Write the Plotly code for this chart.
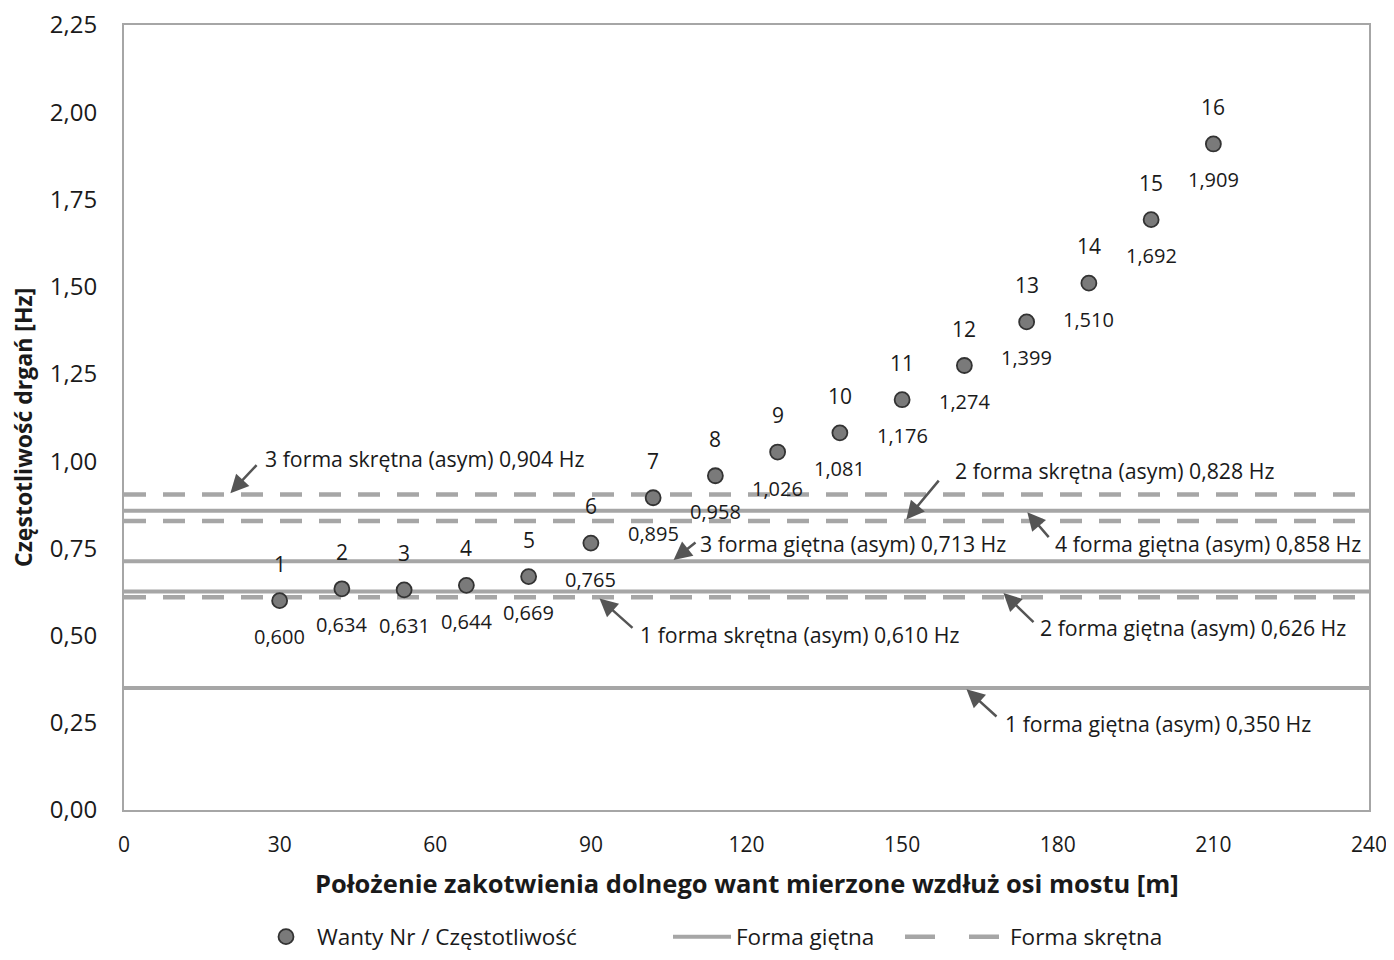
import plotly.graph_objects as go

# ---- data ----
positions = [30, 42, 54, 66, 78, 90, 102, 114, 126, 138, 150, 162, 174, 186, 198, 210]
stay_no = list(range(1, 17))
freqs = [0.600, 0.634, 0.631, 0.644, 0.669, 0.765, 0.895, 0.958, 1.026, 1.081,
         1.176, 1.274, 1.399, 1.510, 1.692, 1.909]

bend_labels = ["1 forma giętna (asym) 0,350 Hz", "2 forma giętna (asym) 0,626 Hz",
               "3 forma giętna (asym) 0,713 Hz", "4 forma giętna (asym) 0,858 Hz"]
bend_values = [0.350, 0.626, 0.713, 0.858]
tors_labels = ["1 forma skrętna (asym) 0,610 Hz", "2 forma skrętna (asym) 0,828 Hz",
               "3 forma skrętna (asym) 0,904 Hz"]
tors_values = [0.610, 0.828, 0.904]

x_range = [0, 240]
y_range = [0, 2.25]
y_ticks = [0, 0.25, 0.5, 0.75, 1.0, 1.25, 1.5, 1.75, 2.0, 2.25]

# ---- layout geometry: page has an 8px body margin ----
OFF = 8
W, H = 1394 - 2 * OFF, 960 - 2 * OFF
PL, PT, PR, PB = 124, 25, 1369, 810          # plot box in page pixels
L, T = PL - OFF, PT - OFF
R = W - (PR - OFF)
B = H - (PB - OFF)
pw, ph = PR - PL, PB - PT

def px2x(px):
    return (px - PL) / pw * (x_range[1] - x_range[0])
def py2y(py):
    return (PB - py) / ph * (y_range[1] - y_range[0])
def px2paper(px):
    return (px - PL) / pw
def py2paper(py):
    return (PB - py) / ph

FONT = "Open Sans"
TXT = "#1a1a1a"
LINE_C = "#a6a6a6"
ARROW_C = "#555555"
LEG_Y = (H - (937 - OFF)) / H

fig = go.Figure()

# horizontal mode lines
for i, v in enumerate(bend_values):
    fig.add_trace(go.Scatter(x=x_range, y=[v, v], mode="lines",
                             line=dict(color=LINE_C, width=4),
                             name="Forma giętna", legendgroup="bend", legend="legend2",
                             showlegend=(i == 0), hoverinfo="skip"))
for i, v in enumerate(tors_values):
    fig.add_trace(go.Scatter(x=x_range, y=[v, v], mode="lines",
                             line=dict(color=LINE_C, width=4.5, dash="22px,17px"),
                             name="Forma skrętna", legendgroup="tors",
                             showlegend=False, hoverinfo="skip"))
# legend entry for torsional modes (legend sample only)
fig.add_trace(go.Scatter(x=[None], y=[None], mode="lines",
                         line=dict(color=LINE_C, width=4.5, dash="30px,34px"),
                         name="Forma skrętna", legendgroup="tors", legend="legend3",
                         showlegend=True, hoverinfo="skip"))

# stays
fig.add_trace(go.Scatter(x=positions, y=freqs, mode="markers",
                         marker=dict(size=15, color="#7a7a7a",
                                     line=dict(color="#333333", width=1.8)),
                         name="Wanty Nr / Częstotliwość", legend="legend"))

annotations = []
for xi, yi, n in zip(positions, freqs, stay_no):
    annotations.append(dict(x=xi, y=yi, text=str(n), showarrow=False, yshift=37,
                            font=dict(size=21, color=TXT, family=FONT)))
    annotations.append(dict(x=xi, y=yi, text=f"{yi:.3f}".replace(".", ","),
                            showarrow=False, yshift=-36,
                            font=dict(size=20, color=TXT, family=FONT)))

# mode annotations: (label, value, tip page-x, arrow offset ax, ay, text left page-x, text center page-y)
mode_ann = [
    (tors_labels[2], tors_values[2], 229, 29, -31, 263, 458),
    (tors_labels[1], tors_values[1], 905, 35, -42, 953, 470),
    (bend_labels[3], bend_values[3], 1026, 24, 28, 1053, 543),
    (bend_labels[2], bend_values[2], 672, 25, -20, 698, 543),
    (tors_labels[0], tors_values[0], 598, 36, 32, 638, 634),
    (bend_labels[1], bend_values[1], 1002, 33, 32, 1038, 627),
    (bend_labels[0], bend_values[0], 965, 33, 30, 1003, 723),
]
for lab, val, tipx, ax, ay, tx, ty in mode_ann:
    annotations.append(dict(x=px2x(tipx), y=val, text="", showarrow=True,
                            ax=ax, ay=ay, arrowhead=2, arrowsize=1.45,
                            arrowwidth=2.5, arrowcolor=ARROW_C, standoff=2))
    annotations.append(dict(x=px2x(tx), y=py2y(ty), text=lab, showarrow=False,
                            xanchor="left", yanchor="middle",
                            font=dict(size=21.3, color=TXT, family=FONT)))

# axis titles as annotations for exact placement
annotations.append(dict(xref="paper", yref="paper", x=px2paper(747), y=py2paper(883),
                        text="<b>Położenie zakotwienia dolnego want mierzone wzdłuż osi mostu [m]</b>",
                        showarrow=False, xanchor="center", yanchor="middle",
                        font=dict(size=25.5, family=FONT, color=TXT)))
annotations.append(dict(xref="paper", yref="paper", x=px2paper(23), y=py2paper(428),
                        text="<b>Częstotliwość drgań [Hz]</b>", textangle=-90,
                        showarrow=False, xanchor="center", yanchor="middle",
                        font=dict(size=23, family=FONT, color=TXT)))

leg_common = dict(orientation="h", xanchor="left", y=LEG_Y, yanchor="middle",
                  yref="container", bgcolor="rgba(0,0,0,0)",
                  font=dict(size=22.5, family=FONT, color=TXT))

fig.update_layout(
    width=W, height=H,
    margin=dict(l=L, r=R, t=T, b=B, autoexpand=False),
    plot_bgcolor="white", paper_bgcolor="white",
    separators=", ",
    font=dict(family=FONT, size=20, color=TXT),
    showlegend=True,
    legend=dict(x=px2paper(255), itemwidth=52, **leg_common),
    legend2=dict(x=px2paper(668), itemwidth=58, **leg_common),
    legend3=dict(x=px2paper(900), itemwidth=100, **leg_common),
    annotations=annotations,
)
fig.update_xaxes(range=x_range, tickvals=list(range(0, 241, 30)), automargin=False,
                 showgrid=False, zeroline=False, showline=True, linecolor="#a6a6a6",
                 linewidth=2, mirror=True, ticks="outside", ticklen=15,
                 tickcolor="rgba(0,0,0,0)", ticklabeloverflow="allow",
                 tickfont=dict(size=21, family=FONT, color=TXT))
fig.update_yaxes(range=y_range, tickvals=y_ticks, tickformat=".2f", automargin=False,
                 showgrid=False, zeroline=False, showline=True, linecolor="#a6a6a6",
                 linewidth=2, mirror=True, ticks="outside", ticklen=20,
                 tickcolor="rgba(0,0,0,0)", ticklabeloverflow="allow",
                 tickfont=dict(size=24, family=FONT, color=TXT))

fig.write_html("out.html")
